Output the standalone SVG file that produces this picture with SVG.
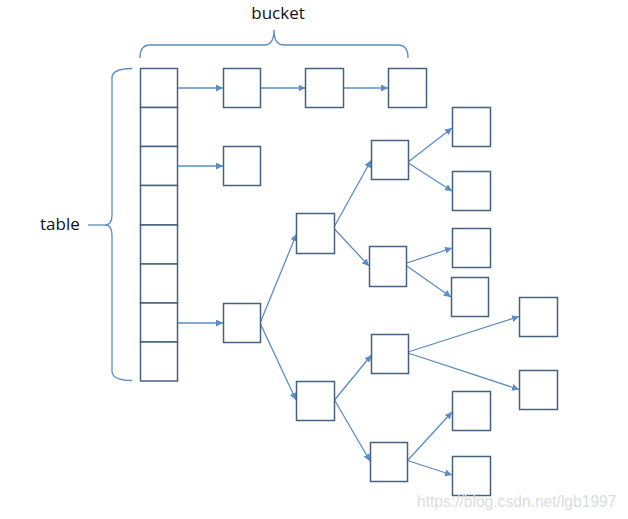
<svg xmlns="http://www.w3.org/2000/svg" width="628" height="519" viewBox="0 0 628 519">
<defs>
<style>
.box{fill:#ffffff;stroke:#44617f;stroke-width:1.5}
.arr{fill:none;stroke:#5b8cc4;stroke-width:1.3;marker-end:url(#ah)}
.brace{fill:none;stroke:#5b8cc4;stroke-width:1.3}
.lbl{font-family:"Open Sans","Noto Sans","Liberation Sans",sans-serif;font-size:17px;fill:#111111}
.wm{font-family:"Liberation Sans",Arial,sans-serif;font-size:15.6px;fill:#dcdcdc}
</style>
<marker id="ah" viewBox="0 0 10 10" refX="10" refY="5" markerWidth="7" markerHeight="7" markerUnits="userSpaceOnUse" orient="auto">
<path d="M0,0 L10,5 L0,10 z" fill="#5b8cc4"/>
</marker>
</defs>
<rect width="628" height="519" fill="#ffffff"/>
<g id="labels">
<text class="lbl" x="278" y="19" text-anchor="middle">bucket</text>
<text class="lbl" x="40" y="230">table</text>
<path class="brace" d="M140,58 Q140,45 150,45 L264,45 Q274,45 274,30 Q274,45 284,45 L398,45 Q408,45 408,58"/>
<path class="brace" d="M132,68.5 Q112,68.5 112,78 L112,215 Q112,225 105,225 Q112,225 112,235 L112,371 Q112,380.5 132,380.5"/>
<path class="brace" d="M88,225 L105,225"/>
</g>
<g id="connectors">
<path class="arr" d="M177.5,88 L223,88"/>
<path class="arr" d="M260.5,88 L305.5,88"/>
<path class="arr" d="M343.5,88 L388,88"/>
<path class="arr" d="M177.5,166 L223,166"/>
<path class="arr" d="M177.5,323 L223,323"/>
<path class="arr" d="M260.5,322 L296.5,234"/>
<path class="arr" d="M260.5,324 L296,400"/>
<path class="arr" d="M333.5,228 L371,160.5"/>
<path class="arr" d="M333.5,228 L369,266"/>
<path class="arr" d="M407.5,162.5 L452,128"/>
<path class="arr" d="M407.5,162.5 L452,191"/>
<path class="arr" d="M404,264 L452,248"/>
<path class="arr" d="M404,264 L451,297"/>
<path class="arr" d="M334.5,400 L371.5,355"/>
<path class="arr" d="M334.5,400 L370,461"/>
<path class="arr" d="M406.5,352.5 L519,316.5"/>
<path class="arr" d="M406.5,352.5 L519,389.5"/>
<path class="arr" d="M407.5,460.5 L452,412"/>
<path class="arr" d="M407.5,460.5 L452,475"/>
</g>
<g id="table">
<rect class="box" x="140.5" y="68.5" width="37" height="39"/>
<rect class="box" x="140.5" y="107.5" width="37" height="39"/>
<rect class="box" x="140.5" y="146.5" width="37" height="39"/>
<rect class="box" x="140.5" y="185.5" width="37" height="39.5"/>
<rect class="box" x="140.5" y="225" width="37" height="39"/>
<rect class="box" x="140.5" y="264" width="37" height="39"/>
<rect class="box" x="140.5" y="303" width="37" height="39"/>
<rect class="box" x="140.5" y="342" width="37" height="39"/>
</g>
<g id="n1"><rect class="box" x="223.5" y="68.5" width="37" height="39"/></g>
<g id="n2"><rect class="box" x="305.5" y="68.5" width="38" height="39"/></g>
<g id="n3"><rect class="box" x="388.5" y="68.5" width="38" height="39"/></g>
<g id="n4"><rect class="box" x="223.5" y="146.5" width="37" height="39"/></g>
<g id="n5"><rect class="box" x="223.5" y="303.5" width="37" height="39"/></g>
<g id="n6"><rect class="box" x="296.5" y="213.5" width="38" height="40"/></g>
<g id="n7"><rect class="box" x="371.5" y="140.5" width="37" height="39"/></g>
<g id="n8"><rect class="box" x="369.5" y="246.5" width="37" height="40"/></g>
<g id="n9"><rect class="box" x="452.5" y="107.5" width="38" height="39"/></g>
<g id="n10"><rect class="box" x="452.5" y="171.5" width="38" height="39"/></g>
<g id="n11"><rect class="box" x="452.5" y="228.5" width="38" height="39"/></g>
<g id="n12"><rect class="box" x="451.5" y="277.5" width="37" height="39"/></g>
<g id="n13"><rect class="box" x="296.5" y="381.5" width="38" height="39"/></g>
<g id="n14"><rect class="box" x="371.5" y="334.5" width="37" height="39"/></g>
<g id="n15"><rect class="box" x="370.5" y="442.5" width="37" height="39"/></g>
<g id="n16"><rect class="box" x="519.5" y="297.5" width="38" height="39"/></g>
<g id="n17"><rect class="box" x="519.5" y="370.5" width="38" height="39"/></g>
<g id="n18"><rect class="box" x="452.5" y="391.5" width="38" height="39"/></g>
<g id="n19"><rect class="box" x="452.5" y="456.5" width="38" height="39"/></g>
<text class="wm" x="417" y="507">https://blog.csdn.net/lgb1997</text>
</svg>
